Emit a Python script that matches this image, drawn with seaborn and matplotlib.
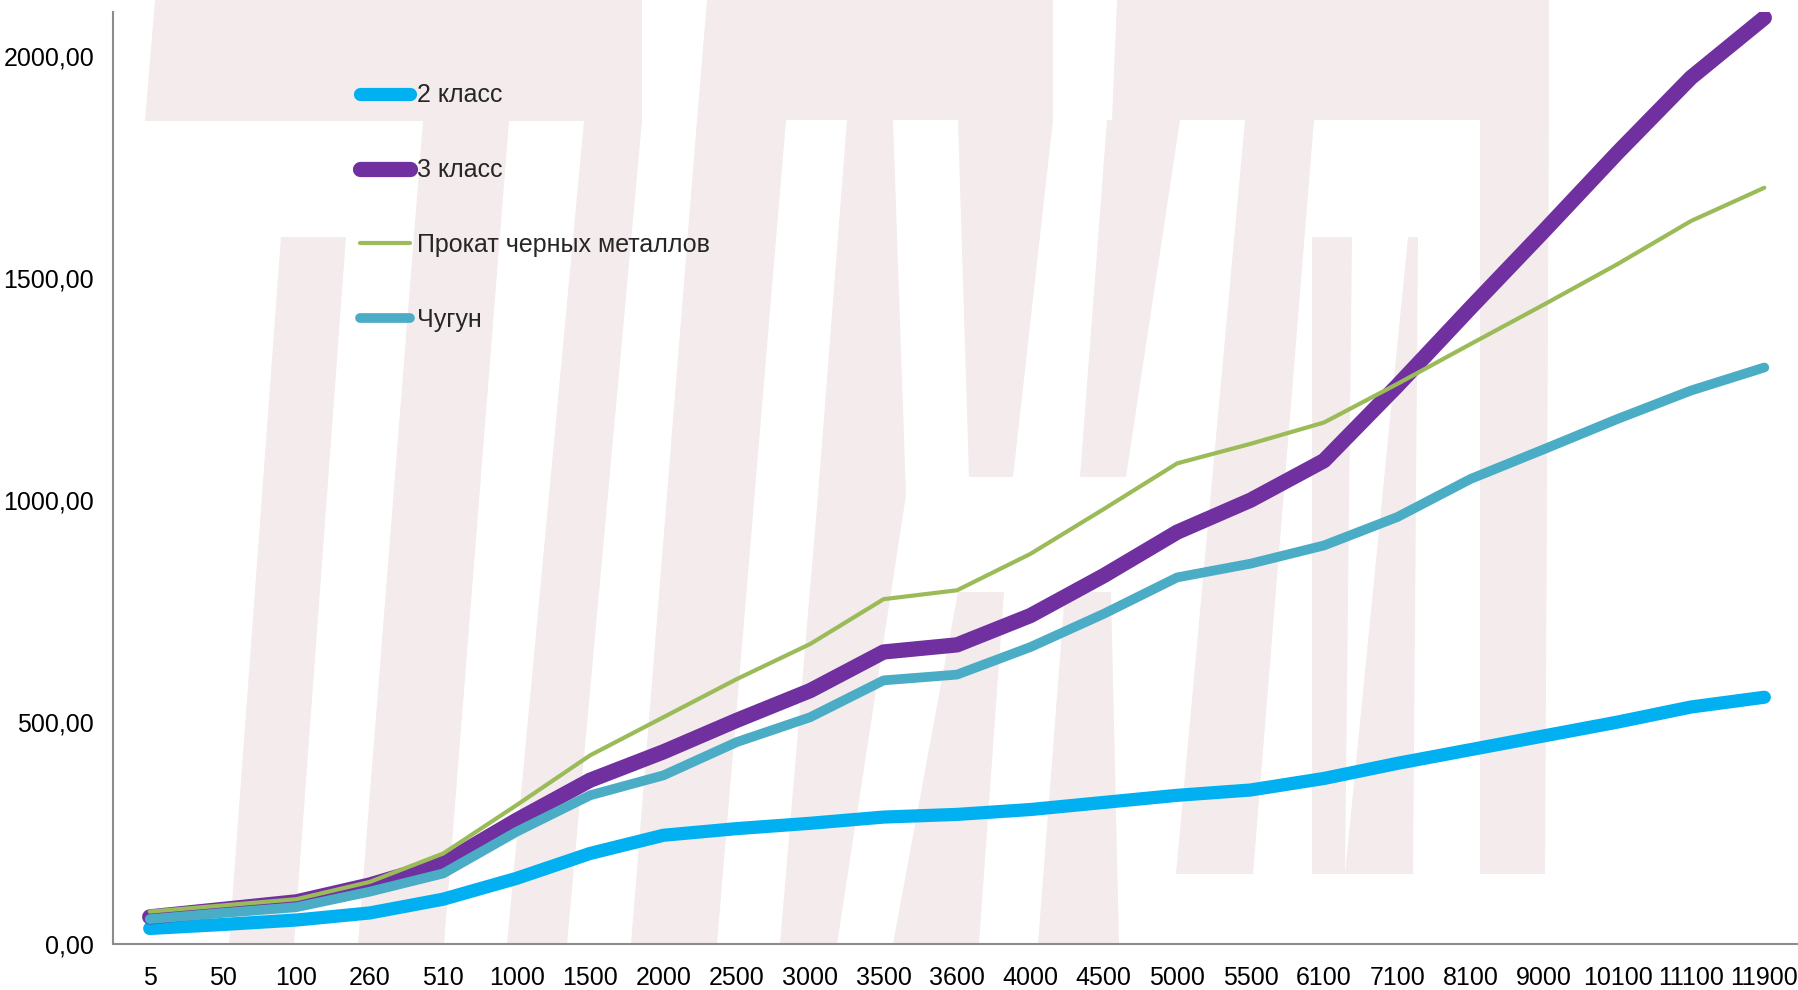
import numpy as np
import pandas as pd
import matplotlib
matplotlib.use("Agg")
import matplotlib.pyplot as plt
import seaborn as sns
from matplotlib.patches import Polygon
from matplotlib.ticker import FuncFormatter

categories = ['5', '50', '100', '260', '510', '1000', '1500', '2000', '2500', '3000',
              '3500', '3600', '4000', '4500', '5000', '5500', '6100', '7100', '8100',
              '9000', '10100', '11100', '11900']

klass2 = [35, 44, 54, 70, 101, 148, 204, 245, 260, 272, 286, 292, 303, 319, 335,
          347, 373, 407, 438, 469, 500, 534, 556]
klass3 = [61, 78, 95, 133, 182, 279, 369, 433, 504, 571, 658, 674, 740, 830, 928,
          1000, 1089, 1258, 1434, 1607, 1783, 1952, 2087]
prokat = [73, 87, 101, 140, 204, 313, 425, 511, 597, 676, 777, 797, 879, 980, 1083,
          1127, 1175, 1262, 1352, 1441, 1532, 1629, 1704]
chugun = [56, 70, 83, 118, 159, 253, 335, 380, 455, 511, 594, 607, 669, 744, 826,
          857, 898, 962, 1048, 1115, 1183, 1247, 1299]

series_names = ['2 класс', '3 класс', 'Прокат черных металлов', 'Чугун']
series_colors = ['#00B0F0', '#7030A0', '#9BBB59', '#4BACC6']
series_widths = [9.5, 11, 3, 7]

# background logo (pixel coords of the 1798x990 canvas, y from top)
watermark = [
    [(155, 0), (642, 0), (642, 121), (145, 121)],
    [(281, 237), (346, 237), (294, 944), (229, 944)],
    [(423, 121), (509, 121), (444, 944), (358, 944)],
    [(584, 121), (642, 121), (567, 944), (507, 944)],
    [(707, 0), (1053, 0), (1053, 120), (697, 120)],
    [(697, 120), (786, 120), (717, 944), (631, 944)],
    [(847, 120), (893, 120), (906, 495), (837, 944), (780, 944), (818, 495)],
    [(958, 120), (1053, 120), (1013, 477), (969, 477)],
    [(958, 592), (1004, 592), (979, 944), (893, 944)],
    [(1065, 592), (1111, 592), (1119, 944), (1038, 944)],
    [(1117, 0), (1549, 0), (1549, 120), (1112, 120)],
    [(1107, 120), (1180, 120), (1126, 477), (1080, 477)],
    [(1245, 120), (1314, 120), (1253, 874), (1176, 874)],
    [(1312, 237), (1352, 237), (1345, 874), (1312, 874)],
    [(1408, 237), (1418, 237), (1413, 874), (1345, 874)],
    [(1480, 120), (1549, 120), (1545, 874), (1480, 874)],
]

sns.set_style("white")
plt.rcParams['font.family'] = ['Liberation Sans', 'DejaVu Sans']

W, H = 1798, 990
fig = plt.figure(figsize=(W / 100, H / 100), dpi=100)
for poly in watermark:
    pts = [(x / W, 1 - y / H) for x, y in poly]
    fig.patches.append(Polygon(pts, closed=True, transform=fig.transFigure,
                               facecolor='#F3EBEC', edgecolor='none', zorder=-1))

ax = fig.add_axes([113 / W, 46 / H, (1801 - 113) / W, (944 - 12) / H])
ax.set_facecolor('none')

x = np.arange(len(categories))
for name, vals, col, lw in zip(series_names, [klass2, klass3, prokat, chugun],
                               series_colors, series_widths):
    df = pd.DataFrame({'x': x, 'y': vals})
    sns.lineplot(data=df, x='x', y='y', ax=ax, color=col, linewidth=lw, label=name,
                 sort=False, solid_capstyle='round')

ax.set_xlim(-0.5, len(categories) - 0.5)
ax.set_ylim(0, 2100)
ax.set_xlabel('')
ax.set_ylabel('')

ax.set_xticks(x)
ax.set_xticklabels(categories)
ax.set_xticks(np.arange(-0.5, len(categories), 1), minor=True)
ax.tick_params(axis='x', which='major', length=0, pad=16, labelsize=18, labelcolor='black')
ax.tick_params(axis='x', which='minor', length=5.5, width=1.3, color='#8C8C8C', direction='out')

ax.set_yticks([0, 500, 1000, 1500, 2000])
ax.yaxis.set_major_formatter(FuncFormatter(lambda v, p: f'{v:.2f}'.replace('.', ',')))
ax.tick_params(axis='y', which='major', length=5.5, width=1.3, color='#8C8C8C',
               direction='out', pad=8, labelsize=18, labelcolor='black')

for side in ['top', 'right']:
    ax.spines[side].set_visible(False)
for side in ['left', 'bottom']:
    ax.spines[side].set_color('#8C8C8C')
    ax.spines[side].set_linewidth(1.5)

leg = ax.legend(loc='upper left', bbox_to_anchor=(347 / W, 1 - 71 / H),
                bbox_transform=fig.transFigure, frameon=False, borderpad=0,
                handlelength=2.0, handletextpad=0.3, labelspacing=2.03,
                fontsize=18)
for line in leg.get_lines():
    line.set_solid_capstyle('round')

fig.savefig('out.png', dpi=100)
plt.close(fig)
